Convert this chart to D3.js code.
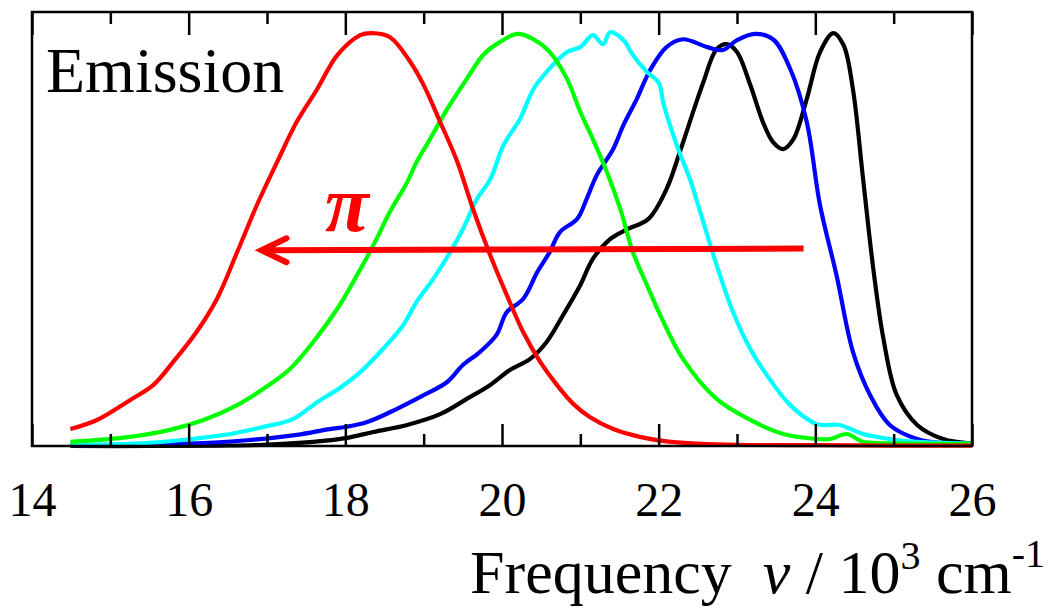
<!DOCTYPE html>
<html>
<head>
<meta charset="utf-8">
<script src="https://cdn.jsdelivr.net/npm/d3@7"></script>
<style>
  body { margin: 0; background: #fff; }
  svg text { font-family: "Liberation Serif", Tinos, "Times New Roman", Times, "DejaVu Serif", serif !important; }
</style>
</head>
<body>
<div id="chart"></div>
<script>
// frequency in 10^3 cm-1, normalized emission intensity
var redSeries = [
  [14.49, 0.041], [14.83, 0.063], [15.25, 0.111], [15.55, 0.148], [15.8, 0.203],
  [16.1, 0.276], [16.36, 0.356], [16.62, 0.470], [16.87, 0.583], [17.13, 0.688],
  [17.38, 0.785], [17.64, 0.864], [17.9, 0.947], [18.19, 0.995], [18.34, 1.0],
  [18.57, 0.99], [18.83, 0.93], [19.0, 0.874], [19.21, 0.785], [19.43, 0.688],
  [19.63, 0.574], [19.85, 0.462], [20.06, 0.366], [20.27, 0.276], [20.49, 0.203],
  [20.7, 0.148], [20.91, 0.102], [21.12, 0.070], [21.42, 0.041], [21.76, 0.022],
  [22.1, 0.011], [22.5, 0.006], [23.0, 0.003], [24.0, 0.002], [25.0, 0.001], [26.0, 0.001]
];
var greenSeries = [
  [14.49, 0.010], [15.25, 0.022], [15.76, 0.039], [16.19, 0.063], [16.62, 0.099],
  [16.95, 0.138], [17.29, 0.186], [17.59, 0.252], [17.91, 0.336], [18.15, 0.414],
  [18.36, 0.487], [18.57, 0.567], [18.79, 0.639], [18.91, 0.688], [19.08, 0.743],
  [19.3, 0.816], [19.55, 0.889], [19.76, 0.947], [19.97, 0.978], [20.2, 0.998],
  [20.4, 0.985], [20.61, 0.954], [20.83, 0.889], [21.0, 0.809], [21.16, 0.743],
  [21.34, 0.663], [21.51, 0.574], [21.67, 0.470], [21.85, 0.390], [22.02, 0.317],
  [22.31, 0.211], [22.74, 0.114], [23.17, 0.063], [23.59, 0.029], [24.02, 0.017],
  [24.19, 0.017], [24.4, 0.029], [24.61, 0.010], [24.87, 0.007], [25.5, 0.005], [26.0, 0.005]
];
var cyanSeries = [
  [14.49, 0.003], [15.25, 0.005], [15.89, 0.014], [16.53, 0.029], [16.95, 0.046],
  [17.33, 0.065], [17.64, 0.106], [17.91, 0.138], [18.19, 0.179], [18.48, 0.235],
  [18.74, 0.293], [18.91, 0.349], [19.12, 0.404], [19.34, 0.470], [19.5, 0.525],
  [19.68, 0.598], [19.85, 0.646], [20.02, 0.729], [20.23, 0.792], [20.4, 0.864],
  [20.57, 0.906], [20.83, 0.954], [21.0, 0.966], [21.16, 0.995], [21.29, 0.973],
  [21.38, 1.002], [21.55, 0.983], [21.67, 0.947], [21.85, 0.906], [22.0, 0.880],
  [22.06, 0.830], [22.23, 0.729], [22.4, 0.646], [22.53, 0.567], [22.74, 0.438],
  [22.95, 0.324], [23.17, 0.235], [23.38, 0.172], [23.68, 0.099], [24.02, 0.053],
  [24.31, 0.051], [24.61, 0.029], [24.95, 0.017], [25.3, 0.010], [25.72, 0.007], [26.0, 0.006]
];
var blueSeries = [
  [14.49, 0.002], [15.89, 0.005], [16.74, 0.014], [17.38, 0.027], [17.8, 0.041],
  [18.0, 0.046], [18.28, 0.058], [18.66, 0.090], [19.0, 0.123], [19.3, 0.155],
  [19.5, 0.196], [19.72, 0.228], [19.93, 0.269], [20.06, 0.324], [20.27, 0.356],
  [20.45, 0.421], [20.61, 0.470], [20.74, 0.518], [20.96, 0.550], [21.08, 0.598],
  [21.21, 0.656], [21.42, 0.719], [21.55, 0.777], [21.72, 0.840], [21.89, 0.910],
  [22.1, 0.966], [22.31, 0.985], [22.62, 0.966], [22.82, 0.959], [23.0, 0.983],
  [23.23, 0.998], [23.46, 0.985], [23.68, 0.913], [23.89, 0.785], [24.06, 0.583],
  [24.27, 0.414], [24.48, 0.228], [24.7, 0.123], [24.95, 0.051], [25.3, 0.017],
  [25.63, 0.007], [26.0, 0.005]
];
var blackSeries = [
  [14.49, 0.0], [15.5, 0.0], [16.4, 0.001], [16.95, 0.003], [17.59, 0.010],
  [18.0, 0.019], [18.36, 0.034], [18.79, 0.051], [19.21, 0.077], [19.55, 0.114],
  [19.85, 0.148], [20.1, 0.184], [20.36, 0.211], [20.57, 0.252], [20.78, 0.317],
  [21.0, 0.390], [21.16, 0.453], [21.38, 0.501], [21.6, 0.525], [21.87, 0.550],
  [22.1, 0.622], [22.27, 0.712], [22.44, 0.809], [22.57, 0.881], [22.74, 0.961],
  [22.87, 0.973], [23.0, 0.954], [23.17, 0.874], [23.33, 0.785], [23.46, 0.736],
  [23.59, 0.719], [23.72, 0.743], [23.89, 0.840], [24.06, 0.954], [24.23, 1.0],
  [24.36, 0.971], [24.48, 0.864], [24.61, 0.646], [24.74, 0.429], [24.87, 0.259],
  [25.04, 0.123], [25.3, 0.051], [25.63, 0.017], [26.0, 0.006]
];

var series = [
  {name: "black", color: "#000000", values: blackSeries},
  {name: "blue", color: "#0000ff", values: blueSeries},
  {name: "cyan", color: "#00ffff", values: cyanSeries},
  {name: "green", color: "#00ff00", values: greenSeries},
  {name: "red", color: "#ff0000", values: redSeries}
];

var majorTicks = [14, 16, 18, 20, 22, 24, 26];
var minorTicks = [15, 17, 19, 21, 23, 25];

// arrow in data units: from -> to at one height
var arrowFrom = [23.85, 0.478];
var arrowTo = [16.93, 0.474];
var piAt = [18.02, 0.52];

var serif = "'Liberation Serif', Tinos, 'Times New Roman', Times, 'DejaVu Serif', serif";

var margin = {top: 12, right: 83, bottom: 162, left: 32};
var width = 940, height = 434;

var svg = d3.select("#chart").append("svg")
    .attr("width", 1055)
    .attr("height", 608)
  .append("g")
    .attr("transform", "translate(" + margin.left + "," + margin.top + ")");

var x = d3.scaleLinear().domain([14, 26]).range([0, width]);
var y = d3.scaleLinear().domain([0, 1.051]).range([height, 0]);

var line = d3.line()
    .x(function(d) { return x(d[0]); })
    .y(function(d) { return y(d[1]); })
    .curve(d3.curveCatmullRom.alpha(0.5));

svg.append("g").attr("class", "curves")
  .selectAll("path")
  .data(series)
  .enter().append("path")
    .attr("d", function(d) { return line(d.values); })
    .style("fill", "none")
    .style("stroke", function(d) { return d.color; })
    .style("stroke-width", 4.2)
    .style("stroke-linejoin", "round");

// axes, ticks pointing inward
function styleAxis(g) {
  g.attr("font-family", serif);
  g.select(".domain").remove();
  g.selectAll(".tick line").style("stroke", "#000").style("stroke-width", 2.5);
}

svg.append("g")
    .attr("transform", "translate(0," + height + ")")
    .call(d3.axisBottom(x).tickValues(majorTicks).tickSize(-22).tickPadding(36).tickFormat(d3.format("d")))
    .call(styleAxis)
    .call(function(g) {
      g.selectAll("text").style("font-size", "48px").style("font-family", serif).attr("fill", "#000");
    });

svg.append("g")
    .attr("transform", "translate(0," + height + ")")
    .call(d3.axisBottom(x).tickValues(minorTicks).tickSize(-12).tickFormat(""))
    .call(styleAxis);

svg.append("g")
    .call(d3.axisTop(x).tickValues(majorTicks).tickSize(-23).tickFormat(""))
    .call(styleAxis);

svg.append("g")
    .call(d3.axisTop(x).tickValues(minorTicks).tickSize(-12).tickFormat(""))
    .call(styleAxis);

svg.append("rect")
    .attr("width", width)
    .attr("height", height)
    .style("fill", "none")
    .style("stroke", "#000")
    .style("stroke-width", 2.5);

// arrow and label
var ax0 = x(arrowFrom[0]), ay0 = y(arrowFrom[1]);
var ax1 = x(arrowTo[0]), ay1 = y(arrowTo[1]);
svg.append("line")
    .attr("x1", ax0).attr("y1", ay0)
    .attr("x2", ax1 + 3).attr("y2", ay1)
    .style("stroke", "#ff0000")
    .style("stroke-width", 6);
svg.append("path")
    .attr("d", "M" + (ax1 + 25) + "," + (ay1 - 12) + "L" + ax1 + "," + ay1 + "L" + (ax1 + 25) + "," + (ay1 + 12))
    .style("fill", "none")
    .style("stroke", "#ff0000")
    .style("stroke-width", 6)
    .style("stroke-linecap", "round")
    .style("stroke-linejoin", "miter");

svg.append("text")
    .attr("x", x(piAt[0]))
    .attr("y", y(piAt[1]))
    .attr("text-anchor", "middle")
    .style("font-family", serif)
    .style("font-size", "80px")
    .style("font-style", "italic")
    .style("font-weight", "bold")
    .attr("fill", "#ff0000")
    .text("\u03c0");

svg.append("text")
    .attr("x", 14)
    .attr("y", 80)
    .style("font-family", serif)
    .style("font-size", "64px")
    .attr("fill", "#000")
    .text("Emission");

var title = svg.append("text")
    .attr("x", 438)
    .attr("y", 581)
    .style("font-family", serif)
    .style("font-size", "62px")
    .attr("fill", "#000");
title.append("tspan").text("Frequency\u00a0\u00a0");
title.append("tspan").style("font-style", "italic").text("\u03bd");
title.append("tspan").text("\u00a0/\u00a010");
title.append("tspan").attr("dy", -24).style("font-size", "40px").text("3");
title.append("tspan").attr("dy", 24).text("\u00a0cm");
title.append("tspan").attr("dy", -26).style("font-size", "40px").text("-1");
</script>
</body>
</html>
